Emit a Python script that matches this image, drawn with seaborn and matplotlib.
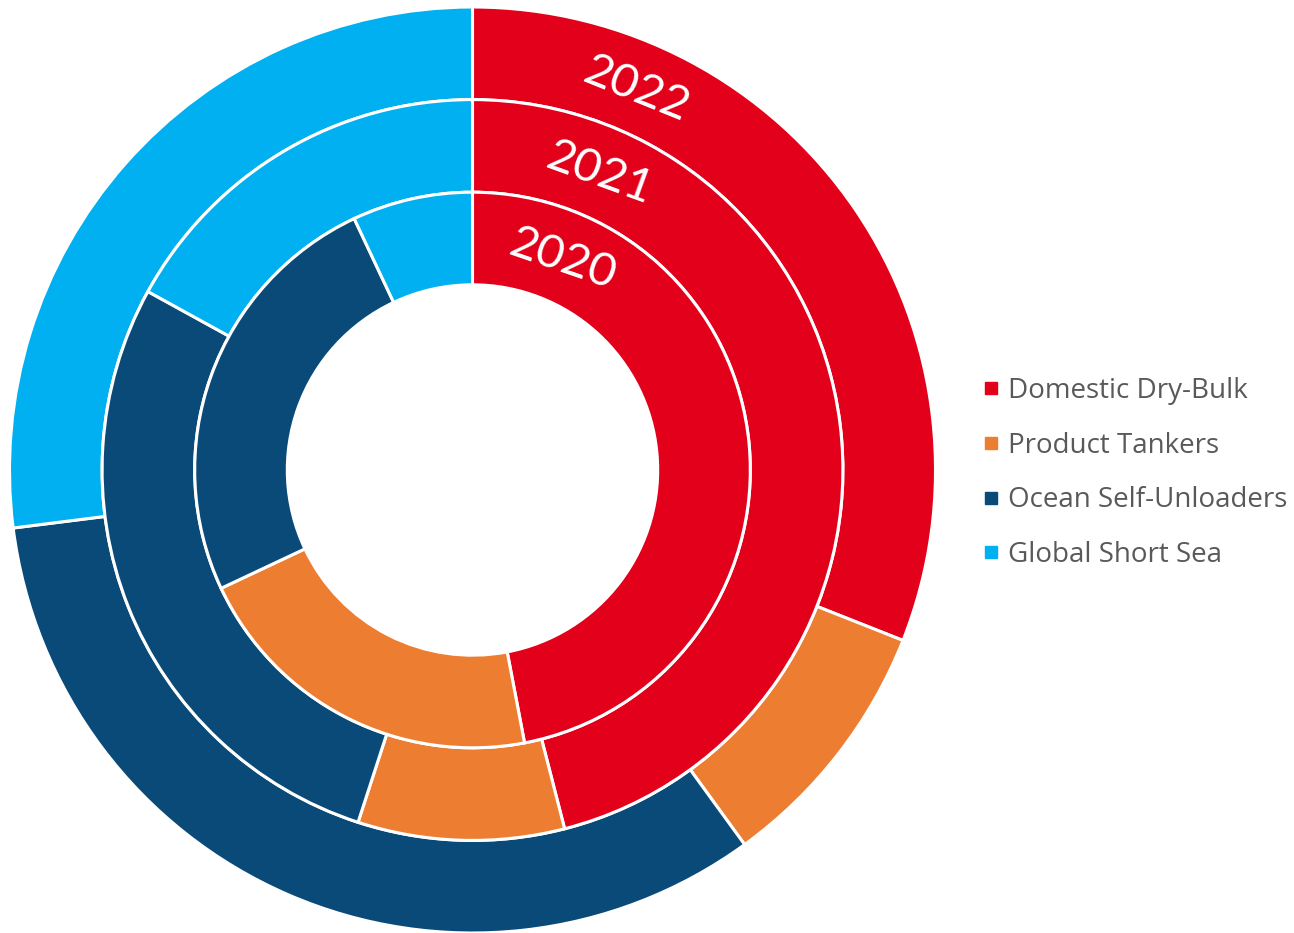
import matplotlib
matplotlib.use("Agg")
import matplotlib.pyplot as plt
from matplotlib.lines import Line2D
import seaborn as sns

# Fleet mix by segment (% of total), one ring per year
segments = ["Domestic Dry-Bulk", "Product Tankers", "Ocean Self-Unloaders", "Global Short Sea"]
share_2020 = [47, 21, 25, 7]
share_2021 = [46, 9, 28, 17]
share_2022 = [31, 9, 33, 27]
years = ["2020", "2021", "2022"]

colors = ["#E2001A", "#ED7D31", "#0A4A78", "#00B0F0"]

sns.set_theme(style="white")
plt.rcParams["font.family"] = ["Open Sans", "DejaVu Sans"]

fig = plt.figure(figsize=(12.94, 9.33), dpi=100)
ax = fig.add_axes([9.5 / 1294, 0.0, 926 / 1294, 926 / 933])

ring_w = 0.2
rings = [(share_2022, 1.0), (share_2021, 0.8), (share_2020, 0.6)]
for values, radius in rings:
    ax.pie(values, radius=radius, colors=colors, startangle=90, counterclock=False,
           wedgeprops=dict(width=ring_w, edgecolor="white", linewidth=2.2))

# Year labels along the red arcs
label_pos = {"2022": (0.354, 0.822), "2021": (0.274, 0.641), "2020": (0.196, 0.455)}
label_rot = {"2022": -22, "2021": -20, "2020": -19}
for y in years:
    x0, y0 = label_pos[y]
    ax.text(x0, y0, y, color="white", fontsize=34, family=["Lato", "DejaVu Sans"],
            fontweight="normal", fontstyle="normal",
            ha="center", va="center", rotation=label_rot[y], rotation_mode="anchor")

ax.set_xlim(-1, 1)
ax.set_ylim(-1, 1)
ax.set_aspect("equal")
ax.axis("off")

handles = [Line2D([0], [0], marker="s", linestyle="none", markersize=9,
                  markerfacecolor=c, markeredgecolor=c) for c in colors]
fig.legend(handles, segments, loc="center left", bbox_to_anchor=(983 / 1294, 1 - 473 / 933),
           frameon=False, fontsize=20, labelcolor="#595959", handlelength=0.6,
           handletextpad=0.3, labelspacing=0.96, borderaxespad=0, borderpad=0)

fig.savefig("out.png", dpi=100, facecolor="white")
